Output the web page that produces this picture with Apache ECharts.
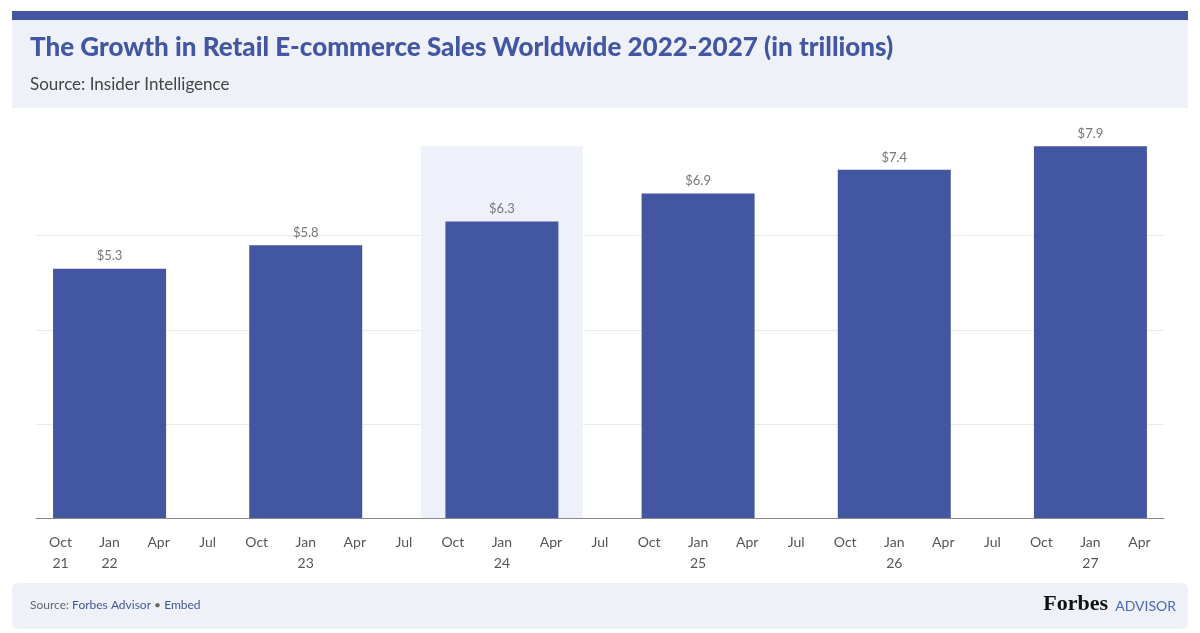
<!DOCTYPE html><html><head><meta charset="utf-8">
<script src="https://cdn.jsdelivr.net/npm/echarts@6/dist/echarts.min.js"></script>
<style>html,body{margin:0;padding:0;background:#fff}#c{width:1200px;height:633px}</style></head><body><div id="c"></div>
<script>
const categories=['Oct\n21','Jan\n22','Apr','Jul','Oct','Jan\n23','Apr','Jul','Oct','Jan\n24','Apr','Jul','Oct','Jan\n25','Apr','Jul','Oct','Jan\n26','Apr','Jul','Oct','Jan\n27','Apr'];
const sales=[null,5.3,null,null,null,5.8,null,null,null,6.3,null,null,null,6.9,null,null,null,7.4,null,null,null,7.9,null];
const highlight=[null,null,null,null,null,null,null,null,null,7.9,null,null,null,null,null,null,null,null,null,null,null,null,null];
const font='Lato, "Noto Sans", sans-serif';
const chart=echarts.init(document.getElementById('c'));
chart.setOption({
 animation:false,
 graphic:[
  {type:'rect',shape:{x:12,y:11,width:1176,height:10},style:{fill:'#4356a2'}},
  {type:'rect',shape:{x:12,y:20,width:1176,height:88},style:{fill:'#eef2f8'}},
  {type:'text',left:30,top:35,style:{text:'The Growth in Retail E-commerce Sales Worldwide 2022-2027 (in trillions)',font:'900 26px '+font,fill:'#4356a2'}},
  {type:'text',left:30,top:76,style:{text:'Source: Insider Intelligence',font:'17px '+font,fill:'#444'}},
  {type:'rect',shape:{x:12,y:583,width:1176,height:46,r:6},style:{fill:'#eef2f8'}},
  {type:'text',left:30,top:599,style:{rich:{a:{fill:'#666',font:'12px '+font},b:{fill:'#4356a2',font:'12px '+font}},text:'{a|Source: }{b|Forbes Advisor}{a| • }{b|Embed}'}},
  {type:'text',right:92,top:593,style:{text:'Forbes',font:'bold 22px "Liberation Serif", serif',fill:'#111'}},
  {type:'text',right:24,top:599,style:{text:'ADVISOR',font:'14px '+font,fill:'#4a68b8'}}
 ],
 grid:{left:36,right:36,top:144,bottom:115},
 xAxis:[{type:'category',data:categories,axisLine:{lineStyle:{color:'#888'}},axisTick:{alignWithLabel:true,length:6,lineStyle:{color:'#666'}},
  axisLabel:{color:'#555',fontSize:14,fontFamily:font,lineHeight:21,margin:14,interval:0}},
  {type:'category',data:categories,show:false}],
 yAxis:{type:'value',min:0,max:7.95,interval:2,axisLabel:{show:false},axisLine:{show:false},axisTick:{show:false},splitLine:{showMaxLine:false,lineStyle:{color:'#eaeaea'}}},
 series:[
  {type:'bar',xAxisIndex:1,data:highlight,barWidth:162,itemStyle:{color:'#eef1fa'},z:1,silent:true},
  {type:'bar',data:sales,barWidth:113,itemStyle:{color:'#4356a2'},z:2,
   label:{show:true,position:'top',distance:6,color:'#777',fontSize:13,fontFamily:font,formatter:p=>'$'+p.value.toFixed(1)}}
 ]
});
</script></body></html>
